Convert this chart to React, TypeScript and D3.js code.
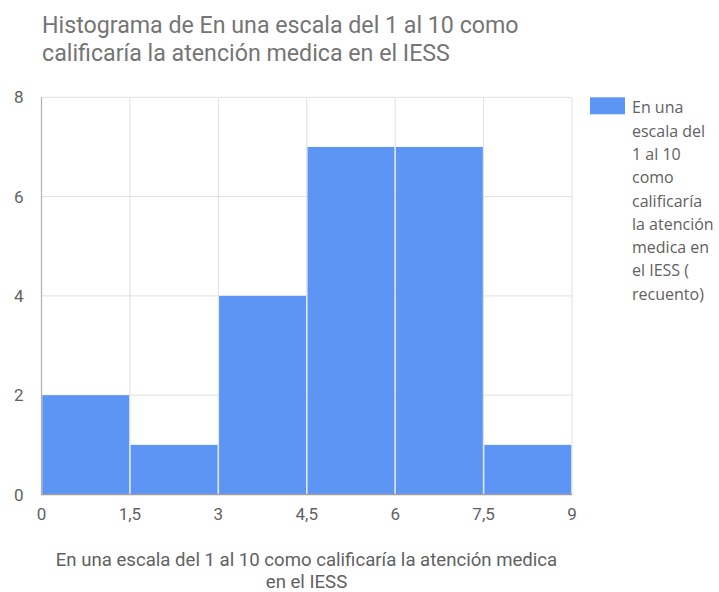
import * as d3 from "d3";
import React from "react";

const binEdges = [0, 1.5, 3, 4.5, 6, 7.5, 9];
const counts = [2, 1, 4, 7, 7, 1];
const yTicks = [0, 2, 4, 6, 8];
const titleLines = [
  "Histograma de En una escala del 1 al 10 como",
  "calificaría la atención medica en el IESS",
];
const axisTitleLines = [
  "En una escala del 1 al 10 como calificaría la atención medica",
  "en el IESS",
];
const legendLines = [
  "En una",
  "escala del",
  "1 al 10",
  "como",
  "calificaría",
  "la atención",
  "medica en",
  "el IESS (",
  "recuento)",
];

const W = 719;
const H = 592;
const plot = { left: 41.5, right: 572, top: 97.3, bottom: 494.5 };
const barColor = "#5c95f4";

const esLocale = d3.formatLocale({
  decimal: ",",
  thousands: ".",
  grouping: [3],
  currency: ["", "€"],
});
const fmt = esLocale.format("~g");

const App: React.FC = () => {
  const x = d3.scaleLinear().domain([0, 9]).range([plot.left, plot.right]);
  const y = d3.scaleLinear().domain([0, 8]).range([plot.bottom, plot.top]);

  const bins = counts.map((c, i) => ({ x0: binEdges[i], x1: binEdges[i + 1], c }));

  return (
    <svg
      width={W}
      height={H}
      style={{ position: "absolute", left: 0, top: 0, background: "#fff" }}
    >
      {/* title */}
      <g fontFamily="Roboto" fontSize={23.2} fill="#757575">
        {titleLines.map((t, i) => (
          <text key={t} x={42} y={33.3 + i * 27.5}>
            {t}
          </text>
        ))}
      </g>

      {/* grid */}
      <g stroke="#e0e0e0" strokeWidth={1}>
        {yTicks.map((t) => (
          <line key={"h" + t} x1={plot.left} x2={plot.right} y1={y(t)} y2={y(t)} />
        ))}
        {binEdges.map((t) => (
          <line key={"v" + t} x1={x(t)} x2={x(t)} y1={plot.top} y2={plot.bottom} />
        ))}
      </g>

      {/* bars */}
      <g fill={barColor}>
        {bins.map((b) => (
          <rect
            key={b.x0}
            x={x(b.x0) + 0.75}
            width={x(b.x1) - x(b.x0) - 1.5}
            y={y(b.c)}
            height={y(0) - y(b.c)}
          />
        ))}
      </g>

      {/* axis lines */}
      <line x1={plot.left} x2={plot.left} y1={plot.top} y2={plot.bottom} stroke="#b0b0b0" strokeWidth={1.2} />
      <line x1={plot.left} x2={plot.right} y1={plot.bottom} y2={plot.bottom} stroke="#9e9e9e" strokeWidth={1.5} />

      {/* y labels */}
      <g fontFamily="Roboto" fontSize={17} fill="#616161" textAnchor="end">
        {yTicks.map((t) => (
          <text key={t} x={23.5} y={y(t)} dy="0.36em">
            {fmt(t)}
          </text>
        ))}
      </g>

      {/* x labels */}
      <g fontFamily="Roboto" fontSize={17} fill="#616161" textAnchor="middle">
        {binEdges.map((t) => (
          <text key={t} x={x(t)} y={520}>
            {fmt(t)}
          </text>
        ))}
      </g>

      {/* x axis title */}
      <g fontFamily="Roboto" fontSize={18.6} fill="#616161" textAnchor="middle">
        {axisTitleLines.map((t, i) => (
          <text key={t} x={306.5} y={566 + i * 22}>
            {t}
          </text>
        ))}
      </g>

      {/* legend */}
      <rect x={590} y={97.3} width={35} height={17} fill={barColor} />
      <g fontFamily="Open Sans" fontSize={16} fill="#616161">
        {legendLines.map((t, i) => (
          <text key={t} x={632} y={113.3 + i * 23.3}>
            {t}
          </text>
        ))}
      </g>
    </svg>
  );
};

export default App;
